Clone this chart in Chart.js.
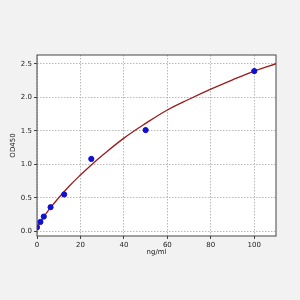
<!DOCTYPE html>
<html lang="en">
<head>
  <meta charset="UTF-8" />
  <title>OD450 standard curve</title>
  <script src="https://cdn.jsdelivr.net/npm/chart.js"></script>
  <style>
    html, body {
      margin: 0;
      padding: 0;
      background: #f2f2f2;
    }

    .chart-container {
      width: 300px;
      height: 300px;
    }
  </style>
</head>
<body>
  <div class="chart-container">
    <canvas id="curveChart"></canvas>
  </div>

  <script>
    // standard points (concentration, OD)
    const concentrations = [0, 1.56, 3.125, 6.25, 12.5, 25, 50, 100];
    const odValues = [0.06, 0.14, 0.22, 0.36, 0.55, 1.08, 1.51, 2.39];

    // fitted curve
    const curveX = [0, 2, 5, 10, 15, 20, 25, 30, 40, 50, 60, 70, 80, 90, 100, 110];
    const curveY = [0.05, 0.16, 0.30, 0.50, 0.68, 0.84, 0.99, 1.13, 1.39, 1.61, 1.81, 1.97, 2.12, 2.26, 2.39, 2.50];

    const xTicks = [0, 20, 40, 60, 80, 100];
    const yTicks = [0, 0.5, 1.0, 1.5, 2.0, 2.5];

    const fontSpec = { family: 'DejaVu Sans', size: 7 };

    // white plot area + dark frame like matplotlib
    const framePlugin = {
      id: 'frame',
      beforeDraw(chart) {
        const { ctx, chartArea: a } = chart;
        ctx.save();
        ctx.fillStyle = '#ffffff';
        ctx.fillRect(a.left, a.top, a.right - a.left, a.bottom - a.top);
        ctx.restore();
      },
      afterDraw(chart) {
        const { ctx, chartArea: a } = chart;
        ctx.save();
        ctx.strokeStyle = '#444444';
        ctx.lineWidth = 1;
        ctx.strokeRect(a.left, a.top, a.right - a.left, a.bottom - a.top);
        ctx.restore();
      }
    };

    const ctx = document.getElementById('curveChart').getContext('2d');

    new Chart(ctx, {
      type: 'scatter',
      data: {
        datasets: [
          {
            label: 'standards',
            data: concentrations.map((x, i) => ({ x: x, y: odValues[i] })),
            backgroundColor: '#1010d0',
            borderColor: '#1010d0',
            pointRadius: 2.6,
            order: 0
          },
          {
            label: 'fit',
            data: curveX.map((x, i) => ({ x: x, y: curveY[i] })),
            showLine: true,
            borderColor: '#9a1b1b',
            borderWidth: 1.3,
            pointRadius: 0,
            tension: 0.4,
            order: 1
          }
        ]
      },
      options: {
        responsive: true,
        maintainAspectRatio: false,
        animation: false,
        layout: {
          padding: { left: 9, right: 24, top: 55, bottom: 44 }
        },
        plugins: {
          legend: { display: false },
          tooltip: { enabled: false }
        },
        scales: {
          x: {
            type: 'linear',
            min: 0,
            max: 110,
            afterBuildTicks: (s) => { s.ticks = xTicks.map(v => ({ value: v })); },
            afterFit: (s) => { s.height = 20; },
            ticks: {
              font: fontSpec,
              color: '#222',
              padding: 2,
              maxRotation: 0
            },
            grid: {
              color: '#b8b8b8',
              tickColor: '#444',
              tickLength: 3
            },
            border: { display: false, dash: [1.5, 1.5] },
            title: {
              display: true,
              text: 'ng/ml',
              font: fontSpec,
              color: '#222',
              padding: { top: 1, bottom: 0 }
            }
          },
          y: {
            type: 'linear',
            min: -0.07,
            max: 2.63,
            afterBuildTicks: (s) => { s.ticks = yTicks.map(v => ({ value: v })); },
            afterFit: (s) => { s.width = 28; },
            ticks: {
              font: fontSpec,
              color: '#222',
              padding: 2,
              callback: (v) => Number(v).toFixed(1)
            },
            grid: {
              color: '#b8b8b8',
              tickColor: '#444',
              tickLength: 3
            },
            border: { display: false, dash: [1.5, 1.5] },
            title: {
              display: true,
              text: 'OD450',
              font: fontSpec,
              color: '#222',
              padding: { top: 0, bottom: 0 }
            }
          }
        }
      },
      plugins: [framePlugin]
    });
  </script>
</body>
</html>
